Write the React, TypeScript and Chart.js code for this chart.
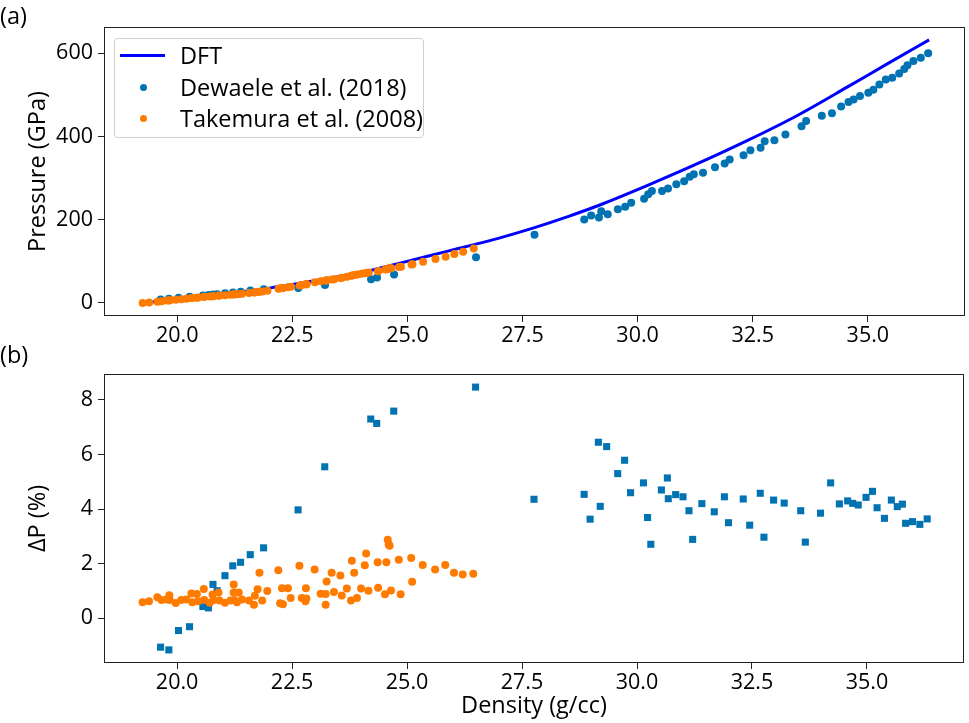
import React, { useEffect, useRef } from "react";
import { Chart, registerables } from "chart.js";

Chart.register(...registerables);

const FONT = "'Open Sans', 'Noto Sans', sans-serif";
const BLUE = "#0173b2";
const ORANGE = "#ff7b00";
const DFT_COLOR = "#0000ff";
const TICK_SIZE = 21.5;
const TEXT_SIZE = 23.5;

// ---- panel (a): pressure vs density ----
const dftDensity = [19.27, 20.0, 20.5, 21.0, 21.5, 22.0, 22.66, 23.4, 24.0, 24.82, 25.9, 26.77, 27.76, 28.5, 29.15, 30.23, 31.31, 32.4, 33.48, 34.56, 35.43, 36.33];
const dftPressure = [0.5, 8, 14.5, 21, 28, 35.5, 47, 61, 73, 95, 125, 149, 181, 208, 234, 283, 335, 391, 451, 519, 575, 632];

const dewaeleDensity = [19.64, 19.82, 20.03, 20.27, 20.56, 20.68, 20.78, 20.87, 21.04, 21.21, 21.38, 21.59, 21.88, 22.63, 23.21, 24.21, 24.34, 24.71, 26.49,
  27.76, 28.84, 28.99, 29.16, 29.21, 29.35, 29.57, 29.73, 29.86, 30.14, 30.23, 30.31, 30.53, 30.66, 30.84, 31.01, 31.13, 31.22, 31.42, 31.68, 31.89, 32.0,
  32.3, 32.45, 32.67, 32.76, 32.97, 33.21, 33.56, 33.66, 34.0, 34.22, 34.42, 34.58, 34.69, 34.83, 35.01, 35.12, 35.25, 35.39, 35.53, 35.68, 35.79, 35.86,
  35.99, 36.15, 36.31];
const dewaelePressure = [8, 10, 12.5, 15, 18, 19, 20, 21, 23, 25, 27, 29.5, 33, 36, 43, 57, 61, 68, 109.6,
  164, 200.7, 210, 205.5, 220, 213, 225, 231, 240.5, 250, 261, 269, 269, 275, 285, 292.6, 303, 309, 313, 326, 335, 344.6,
  355, 367, 373, 388.5, 391, 404.5, 424.5, 437, 450, 456, 472, 483, 488.5, 497, 505, 512.5, 525, 537, 541, 551, 562, 571,
  581, 589, 600];

const takemuraDensity = [19.25, 19.39, 19.57, 19.66, 19.77, 19.83, 19.84, 19.97, 20.09, 20.2, 20.31, 20.33, 20.43, 20.46, 20.58, 20.59, 20.71, 20.77,
  20.79, 20.9, 20.92, 21.04, 21.16, 21.23, 21.23, 21.24, 21.3, 21.34, 21.41, 21.56, 21.67, 21.69, 21.75, 21.85, 21.96, 21.79, 22.2, 22.24, 22.3, 22.28,
  22.41, 22.47, 22.66, 22.71, 22.79, 22.8, 22.81, 22.99, 23.12, 23.23, 23.25, 23.23, 23.36, 23.41, 23.55, 23.58, 23.69, 23.78, 23.8, 23.85, 23.91, 24.0,
  24.08, 24.11, 24.16, 24.36, 24.37, 24.52, 24.55, 24.58, 24.6, 24.62, 24.65, 24.82, 24.86, 25.09, 25.11, 25.34, 25.61, 25.83, 26.02, 26.21, 26.44];
const takemuraPressure = [0, 1, 3, 4, 5.5, 6, 6.5, 7.5, 9, 10, 11.5, 11.5, 12.5, 13, 14, 14.5, 15.5, 16, 16, 17, 17.5, 18.5, 19.5, 20, 20.5, 20.5,
  21, 21.5, 22, 24, 25, 25.5, 26, 27.5, 29, 26.5, 34, 35, 36, 35.5, 37.5, 38.5, 42, 43, 45, 45, 45, 49.5, 52, 54, 54.5, 54, 56, 57, 60, 60.5, 63,
  65.5, 66, 67, 68, 70, 71.5, 72, 73, 76, 76.5, 80.5, 81, 82, 82.5, 83, 83.5, 86.5, 87, 92.5, 93, 99, 105.5, 111, 117.5, 123, 131];

// ---- panel (b): deviation vs density ----
const dewaeleDeltaDensity = [19.64, 19.82, 20.03, 20.27, 20.56, 20.68, 20.78, 20.87, 21.04, 21.21, 21.38, 21.59, 21.88, 22.63, 23.21, 24.21, 24.34, 24.71, 26.49,
  27.76, 28.85, 28.98, 29.16, 29.2, 29.34, 29.58, 29.73, 29.86, 30.14, 30.23, 30.3, 30.53, 30.66, 30.68, 30.84, 31.0, 31.13, 31.21, 31.41, 31.68, 31.9,
  31.99, 32.31, 32.45, 32.68, 32.76, 32.97, 33.2, 33.56, 33.66, 33.99, 34.21, 34.4, 34.58, 34.69, 34.81, 34.98, 35.12, 35.22, 35.38, 35.53, 35.66,
  35.77, 35.84, 35.99, 36.15, 36.31];
const dewaeleDelta = [-1.06, -1.16, -0.45, -0.31, 0.43, 0.38, 1.24, 1.01, 1.56, 1.92, 2.05, 2.33, 2.58, 3.97, 5.55, 7.3, 7.14, 7.59, 8.47,
  4.36, 4.54, 3.63, 6.45, 4.1, 6.29, 5.3, 5.79, 4.6, 4.96, 3.69, 2.71, 4.7, 5.14, 4.38, 4.53, 4.45, 3.94, 2.89, 4.2, 3.9, 4.45,
  3.5, 4.37, 3.41, 4.58, 2.97, 4.33, 4.22, 3.94, 2.79, 3.85, 4.96, 4.19, 4.3, 4.21, 4.15, 4.43, 4.65, 4.05, 3.66, 4.33, 4.09,
  4.18, 3.48, 3.54, 3.44, 3.64];
const takemuraDelta = [0.59, 0.62, 0.77, 0.67, 0.69, 0.84, 0.67, 0.56, 0.67, 0.69, 0.91, 0.59, 0.89, 0.62, 1.07, 0.67, 0.57, 0.87, 0.67, 0.94, 0.65,
  0.57, 0.65, 1.24, 0.94, 0.67, 0.59, 0.94, 0.69, 0.65, 0.49, 0.82, 1.06, 0.65, 1.0, 1.67, 1.76, 0.55, 0.51, 1.1, 1.1, 0.74, 1.92, 0.74, 0.62, 1.1,
  0.72, 1.79, 0.9, 0.89, 1.35, 0.49, 1.67, 0.96, 1.57, 0.83, 1.09, 0.65, 2.11, 1.67, 0.74, 1.09, 1.94, 2.37, 1.01, 2.05, 1.12, 0.88, 2.05, 2.88,
  2.7, 2.66, 1.02, 2.14, 0.88, 2.21, 1.34, 1.95, 1.79, 1.95, 1.67, 1.6, 1.63];

const densityTicks = [20, 22.5, 25, 27.5, 30, 32.5, 35];
const pressureTicks = [0, 200, 400, 600];
const deltaTicks = [0, 2, 4, 6, 8];

const pts = (xs: number[], ys: number[]) => xs.map((x, i) => ({ x, y: ys[i] }));

const framePlugin = {
  id: "frame",
  afterDatasetsDraw(chart: any) {
    const { ctx, chartArea } = chart;
    ctx.save();
    ctx.strokeStyle = "#222";
    ctx.lineWidth = 1;
    ctx.strokeRect(
      Math.round(chartArea.left) + 0.5,
      Math.round(chartArea.top) + 0.5,
      Math.round(chartArea.right - chartArea.left) - 1,
      Math.round(chartArea.bottom - chartArea.top) - 1
    );
    ctx.restore();
  },
};

function makeOptions(opts: {
  yMin: number; yMax: number; yTicks: number[]; yTitle: string;
  xTitle?: string; padTop: number; xAxisHeight: number;
}) {
  const tickFont = { family: FONT, size: TICK_SIZE };
  const titleFont = { family: FONT, size: TEXT_SIZE };
  return {
    animation: false,
    responsive: false,
    events: [],
    layout: { padding: { top: opts.padTop, right: 1, left: 0, bottom: 0 } },
    plugins: { legend: { display: false }, tooltip: { enabled: false } },
    scales: {
      x: {
        type: "linear",
        min: 18.41,
        max: 37.11,
        afterBuildTicks: (s: any) => { s.ticks = densityTicks.map((v) => ({ value: v })); },
        afterFit: (s: any) => { s.height = opts.xAxisHeight; },
        ticks: {
          includeBounds: false,
          font: tickFont,
          color: "#000",
          padding: 1,
          maxRotation: 0,
          autoSkip: false,
          callback: (v: any) => Number(v).toFixed(1),
        },
        grid: { display: true, drawOnChartArea: false, drawTicks: true, tickLength: 6, color: "#222" },
        border: { display: false },
        title: opts.xTitle
          ? { display: true, text: opts.xTitle, font: titleFont, color: "#000", padding: { top: 0, bottom: 3 } }
          : { display: false },
      },
      y: {
        type: "linear",
        min: opts.yMin,
        max: opts.yMax,
        afterBuildTicks: (s: any) => { s.ticks = opts.yTicks.map((v) => ({ value: v })); },
        afterFit: (s: any) => { s.width = 104; },
        ticks: {
          includeBounds: false,
          font: tickFont,
          color: "#000",
          padding: 5,
          autoSkip: false,
          callback: (v: any) => String(v),
        },
        grid: { display: true, drawOnChartArea: false, drawTicks: true, tickLength: 6, color: "#222" },
        border: { display: false },
        title: { display: true, text: opts.yTitle, font: titleFont, color: "#000", padding: { top: 24, bottom: 0 } },
      },
    },
  } as any;
}

function TopChart() {
  const ref = useRef<HTMLCanvasElement>(null);
  useEffect(() => {
    const chart = new Chart(ref.current as HTMLCanvasElement, {
      type: "scatter",
      data: {
        datasets: [
          {
            label: "DFT",
            data: pts(dftDensity, dftPressure),
            showLine: true,
            borderColor: DFT_COLOR,
            borderWidth: 3,
            pointRadius: 0,
            cubicInterpolationMode: "monotone",
            order: 3,
          },
          {
            label: "Dewaele et al. (2018)",
            data: pts(dewaeleDensity, dewaelePressure),
            backgroundColor: BLUE,
            borderWidth: 0,
            pointRadius: 4,
            pointStyle: "circle",
            order: 2,
          },
          {
            label: "Takemura et al. (2008)",
            data: pts(takemuraDensity, takemuraPressure),
            backgroundColor: ORANGE,
            borderWidth: 0,
            pointRadius: 4,
            pointStyle: "circle",
            order: 1,
          },
        ],
      } as any,
      options: makeOptions({ yMin: -31.5, yMax: 663, yTicks: pressureTicks, yTitle: "Pressure (GPa)", padTop: 27, xAxisHeight: 29 }),
      plugins: [framePlugin],
    });
    return () => chart.destroy();
  }, []);
  return <canvas ref={ref} width={969} height={345} style={{ position: "absolute", left: 0, top: 0, width: 969, height: 345 }} />;
}

function BottomChart() {
  const ref = useRef<HTMLCanvasElement>(null);
  useEffect(() => {
    const chart = new Chart(ref.current as HTMLCanvasElement, {
      type: "scatter",
      data: {
        datasets: [
          {
            label: "Dewaele et al. (2018)",
            data: pts(dewaeleDeltaDensity, dewaeleDelta),
            backgroundColor: BLUE,
            borderWidth: 0,
            pointRadius: 5,
            pointStyle: "rect",
            order: 2,
          },
          {
            label: "Takemura et al. (2008)",
            data: pts(takemuraDensity, takemuraDelta),
            backgroundColor: ORANGE,
            borderWidth: 0,
            pointRadius: 4,
            pointStyle: "circle",
            order: 1,
          },
        ],
      } as any,
      options: makeOptions({ yMin: -1.64, yMax: 8.95, yTicks: deltaTicks, yTitle: "ΔP (%)", xTitle: "Density (g/cc)", padTop: 29, xAxisHeight: 60 }),
      plugins: [framePlugin],
    });
    return () => chart.destroy();
  }, []);
  return <canvas ref={ref} width={969} height={378} style={{ position: "absolute", left: 0, top: 345, width: 969, height: 378 }} />;
}

const textStyle: React.CSSProperties = {
  position: "absolute",
  fontFamily: FONT,
  fontSize: TEXT_SIZE,
  lineHeight: "28px",
  color: "#000",
  whiteSpace: "nowrap",
};

function Legend() {
  const rows = [
    { label: "DFT", kind: "line", color: DFT_COLOR, y: 55 },
    { label: "Dewaele et al. (2018)", kind: "dot", color: BLUE, y: 87 },
    { label: "Takemura et al. (2008)", kind: "dot", color: ORANGE, y: 118 },
  ];
  return (
    <>
      <div
        style={{
          position: "absolute",
          left: 114,
          top: 38,
          width: 308,
          height: 98,
          border: "1px solid #d0d0d0",
          borderRadius: 4,
          background: "rgba(255,255,255,0.8)",
        }}
      />
      {rows.map((r) =>
        r.kind === "line" ? (
          <div key={r.label} style={{ position: "absolute", left: 120, top: r.y - 1.5, width: 45, height: 3, background: r.color }} />
        ) : (
          <div key={r.label} style={{ position: "absolute", left: 139.5, top: r.y - 3.5, width: 7, height: 7, borderRadius: "50%", background: r.color }} />
        )
      )}
      {rows.map((r) => (
        <div key={"t" + r.label} style={{ ...textStyle, left: 180, top: r.y - 14 }}>{r.label}</div>
      ))}
    </>
  );
}

export default function App() {
  return (
    <div style={{ position: "fixed", left: 0, top: 0, width: 969, height: 723, background: "#fff", overflow: "hidden" }}>
      <TopChart />
      <BottomChart />
      <Legend />
      <div style={{ ...textStyle, left: 0, top: 1 }}>(a)</div>
      <div style={{ ...textStyle, left: 0, top: 340 }}>(b)</div>
    </div>
  );
}
